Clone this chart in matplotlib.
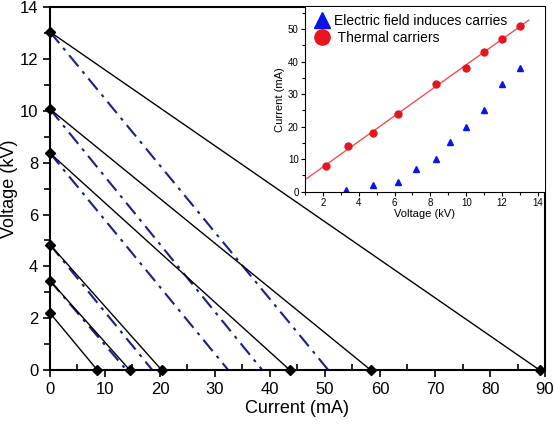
import numpy as np
import matplotlib
matplotlib.use("Agg")
import matplotlib.pyplot as plt
from matplotlib.ticker import MultipleLocator

plt.rcParams['font.family'] = ['Liberation Sans', 'DejaVu Sans']

# Main chart: load lines from (0, V) to (I, 0)
start_voltage = [13.05, 10.07, 8.37, 4.84, 3.45, 2.2]          # kV
end_current_black = [89.0, 58.3, 43.6, 20.3, 14.5, 8.6]       # mA
end_current_blue = [50.6, 38.6, 32.4, 18.6, 13.9]              # mA (dash-dot), for first 5 voltages

# Inset data
thermal_v = [2.2, 3.4, 4.8, 6.2, 8.3, 10.0, 11.0, 12.0, 13.0]
thermal_i = [8, 14, 18, 24, 33, 38, 43, 47, 51]
field_v = [3.3, 4.8, 6.2, 7.2, 8.3, 9.1, 10.0, 11.0, 12.0, 13.0]
field_i = [0.5, 2, 3, 7, 10, 15.3, 20, 25, 33, 38]
fit_range = [1.1, 13.5]

fig = plt.figure(figsize=(5.55, 4.26), dpi=100)
ax = fig.add_axes([0.09, 0.1315, 0.892, 0.8515])

blue = '#1c1c8c'
for v, ib in zip(start_voltage, end_current_blue):
    ax.plot([0, ib], [v, 0], color=blue, lw=1.5, ls=(0, (7, 3, 1.5, 3)), zorder=2)
for v, ik in zip(start_voltage, end_current_black):
    ax.plot([0, ik], [v, 0], color='black', lw=1.0, zorder=3)
    ax.plot([0, ik], [v, 0], ls='none', marker='D', ms=5.5, color='black', zorder=4, clip_on=False)

ax.set_xlim(0, 90)
ax.set_ylim(0, 14)
ax.xaxis.set_major_locator(MultipleLocator(10))
ax.xaxis.set_minor_locator(MultipleLocator(5))
ax.yaxis.set_major_locator(MultipleLocator(2))
ax.yaxis.set_minor_locator(MultipleLocator(1))
ax.tick_params(axis='both', which='major', direction='out', length=5, width=1.2, labelsize=12)
ax.tick_params(axis='x', which='minor', direction='in', length=4, width=1.2)
ax.tick_params(axis='y', which='minor', direction='out', length=4, width=1.2)
for s in ax.spines.values():
    s.set_linewidth(1.5)
ax.set_xlabel('Current (mA)', fontsize=13, labelpad=2)
ax.set_ylabel('Voltage (kV)', fontsize=13, labelpad=1)

# Inset
ins = fig.add_axes([0.5495, 0.55, 0.4325, 0.433])
ins.plot(field_v, field_i, ls='none', marker='^', ms=5, color='#0a14e6',
         label='Electric field induces carries')
ins.plot(thermal_v, thermal_i, ls='none', marker='o', ms=5, color='#e8141e',
         label=' Thermal carriers')
coef = np.polyfit(thermal_v, thermal_i, 1)
xf = np.array(fit_range)
ins.plot(xf, np.polyval(coef, xf), color='#f05050', lw=1.0, zorder=1)
ins.set_xlim(1.0, 14.4)
ins.set_ylim(0, 56.7)
ins.xaxis.set_major_locator(MultipleLocator(2))
ins.xaxis.set_minor_locator(MultipleLocator(1))
ins.yaxis.set_major_locator(MultipleLocator(10))
ins.yaxis.set_minor_locator(MultipleLocator(5))
ins.tick_params(axis='both', which='major', direction='out', length=3, width=0.8, labelsize=7, pad=1.5)
ins.tick_params(axis='both', which='minor', direction='out', length=2, width=0.8)
ins.spines['top'].set_visible(False)
for s in ['left', 'bottom', 'right']:
    ins.spines[s].set_linewidth(0.8)
ins.spines['right'].set_visible(False)
ins.set_xlabel('Voltage (kV)', fontsize=8, labelpad=1)
ins.set_ylabel('Current (mA)', fontsize=8, labelpad=2)
leg = ins.legend(loc='upper left', frameon=False, fontsize=10, markerscale=2.2,
                 handletextpad=0.3, borderaxespad=0.2, labelspacing=0.2,
                 handlelength=1.2, bbox_to_anchor=(0.0, 1.01))

fig.savefig('out.png', dpi=100)
